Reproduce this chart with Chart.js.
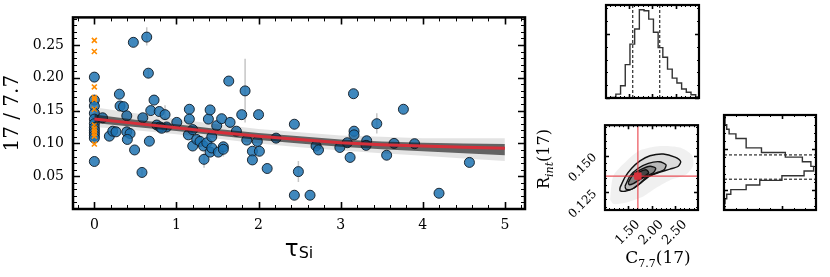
<!DOCTYPE html>
<html>
<head>
<meta charset="utf-8">
<script src="https://cdn.jsdelivr.net/npm/chart.js@4.4.1/dist/chart.umd.min.js"></script>
<style>
body { margin:0; background:#fff; }
#wrap { position:relative; width:830px; height:277px; overflow:hidden; }
canvas { position:absolute; }
.lbl { position:absolute; white-space:nowrap; color:#000; line-height:1; }
</style>
</head>
<body>
<div id="wrap">
<canvas id="main" width="540" height="277" style="left:0;top:0"></canvas>
<canvas id="histTop" width="105" height="104" style="left:600px;top:0"></canvas>
<canvas id="corner" width="153" height="169" style="left:552px;top:108px"></canvas>
<canvas id="histRight" width="115" height="108" style="left:715px;top:108px"></canvas>
<div class="lbl" style="left:199px;top:237px;width:200px;text-align:center;font-family:'DejaVu Sans'"><span style="font-size:23px">τ</span><span style="font-size:16px;position:relative;top:2px">Si</span></div>
<div class="lbl" style="left:598px;top:249px;width:120px;text-align:center;font-family:'DejaVu Serif';font-size:17px">C<span style="font-size:11px;position:relative;top:4px">7.7</span>(17)</div>
<div class="lbl" style="left:495px;top:150px;width:100px;height:18px;text-align:center;font-family:'DejaVu Serif';font-size:16px;transform:rotate(-90deg)">R<span style="font-size:11px;font-style:italic;position:relative;top:4px">int</span>(17)</div>
</div>
<script>
// ---- main panel: 17/7.7 vs tau_Si ----
let xTicks = [0, 1, 2, 3, 4, 5];
let yTicks = [0.05, 0.10, 0.15, 0.20, 0.25];

let tauBlue = [0,0,0,0,0,0,0,0,0,0,0,0,
  0.10,0.183,0.224,0.264,0.305,0.313,0.355,0.395,0.395,0.435,0.402,0.475,0.49,0.58,0.59,0.638,0.658,0.67,
  0.687,0.727,0.79,0.861,0.76,0.80,0.88,0.82,1.004,1.157,1.157,1.145,1.198,1.198,1.247,1.287,1.33,1.37,
  1.336,1.389,1.41,1.41,1.43,1.43,1.49,1.51,1.55,1.571,1.571,1.637,1.653,1.73,1.795,1.836,1.856,1.925,
  1.925,1.985,2.01,2.0,2.105,2.213,2.436,2.485,2.436,2.627,2.70,2.73,2.99,3.08,3.115,3.156,3.163,3.163,
  3.317,3.31,3.44,3.56,3.65,3.764,3.90,4.198,4.568];
let ratioBlue = [0.201,0.166,0.157,0.146,0.137,0.130,0.124,0.120,0.116,0.112,0.108,0.0724,
  0.139,0.111,0.1186,0.1176,0.175,0.157,0.156,0.142,0.1176,0.115,0.106,0.254,0.090,0.0557,0.139,0.262,0.207,0.1033,
  0.150,0.166,0.1486,0.1438,0.128,0.125,0.125,0.123,0.132,0.152,0.137,0.113,0.121,0.096,0.106,0.103,0.096,0.101,
  0.0757,0.137,0.151,0.0867,0.110,0.093,0.127,0.0867,0.1376,0.0948,0.091,0.195,0.132,0.1186,0.1438,0.180,0.105,0.088,
  0.0748,0.103,0.088,0.1438,0.0617,0.108,0.1292,0.057,0.021,0.021,0.096,0.090,0.0938,0.101,0.0786,0.1757,0.1186,0.113,
  0.104,0.097,0.130,0.082,0.100,0.152,0.0995,0.024,0.071];

let tauOrange = [0,0,0,0,0,0,0,0,0,0,0,0];
let ratioOrange = [0.257,0.240,0.186,0.170,0.167,0.152,0.128,0.123,0.119,0.115,0.111,0.099];

// vertical error bars
let errTau = [0.638, 0.658, 1.836, 0.861, 0.58, 1.336, 2.485, 3.44, 1.571, 2.70];
let errLo  = [0.249, 0.200, 0.132, 0.136, 0.051, 0.063, 0.041, 0.115, 0.080, 0.090];
let errHi  = [0.277, 0.214, 0.229, 0.158, 0.061, 0.086, 0.073, 0.146, 0.096, 0.102];

// fit: median curve and spread of the sampled curves
let fitTau  = [0, 0.5, 1, 1.5, 2, 2.5, 3, 3.5, 4, 4.5, 5];
let fitMed  = [0.137, 0.1305, 0.124, 0.117, 0.111, 0.106, 0.101, 0.098, 0.096, 0.094, 0.0925];
let innerHi = [0.144, 0.136, 0.129, 0.122, 0.116, 0.111, 0.106, 0.103, 0.101, 0.100, 0.099];
let innerLo = [0.131, 0.125, 0.119, 0.112, 0.105, 0.100, 0.095, 0.091, 0.088, 0.085, 0.082];
let outerHi = [0.155, 0.146, 0.137, 0.129, 0.122, 0.117, 0.112, 0.110, 0.108, 0.108, 0.108];
let outerLo = [0.125, 0.120, 0.114, 0.107, 0.100, 0.094, 0.089, 0.085, 0.081, 0.077, 0.073];

// ---- corner panels ----
let cornerXTicks = [1.5, 2.0, 2.5];
let cornerYTicks = [0.125, 0.150];

let c77Edges = [1.02,1.12,1.22,1.32,1.42,1.52,1.62,1.72,1.82,1.92,2.02,2.12,2.22,2.32,2.42,2.52,2.62,2.72,2.82,2.92,3.02];
let c77Counts = [1,2,12,38,104,168,215,275,272,246,205,157,127,90,62,47,28,18,10,3];
let c77Quant = [1.58, 2.155];

let rintEdges = [0.1138,0.11665,0.1195,0.12235,0.1252,0.12805,0.1309,0.13375,0.1366,0.13945,0.1423,
  0.14515,0.148,0.15085,0.1537,0.15655,0.1594,0.16225,0.1651,0.16795,0.1708];
let rintCounts = [1,3,8,20,65,105,170,235,263,255,230,180,110,65,65,35,15,8,3,3];
let rintQuant = [0.1316, 0.1465];

let truthC77 = 1.71;
let truthRint = 0.136;

let cloud = [[1.117,0.1199],[1.188,0.1362],[1.472,0.1465],[1.755,0.1537],[2.181,0.1567],[2.607,0.1557],
  [2.855,0.1506],[2.89,0.1434],[2.748,0.1373],[2.394,0.1332],[2.11,0.1281],[1.826,0.122],[1.472,0.1179],[1.188,0.1168]];
let contour1 = [[1.330,0.1281],[1.436,0.1353],[1.578,0.1414],[1.755,0.1465],[1.968,0.150],[2.251,0.1512],[2.5,0.149],
  [2.621,0.1461],[2.571,0.1428],[2.394,0.1408],[2.181,0.1387],[1.968,0.1362],[1.791,0.1318],[1.613,0.1275],[1.436,0.1256],[1.330,0.126]];
let contour2 = [[1.436,0.1291],[1.543,0.1362],[1.719,0.1414],[1.932,0.1448],[2.166,0.1459],[2.309,0.1438],[2.266,0.1404],
  [2.074,0.1379],[1.898,0.1353],[1.755,0.1311],[1.578,0.127],[1.457,0.127]];
let contour3 = [[1.507,0.1318],[1.613,0.1373],[1.791,0.1408],[1.968,0.1428],[2.089,0.1414],[2.039,0.1383],[1.898,0.1362],
  [1.755,0.1338],[1.613,0.1309],[1.521,0.1301]];
let contour4 = [[1.649,0.1353],[1.741,0.1387],[1.883,0.1404],[1.940,0.1383],[1.840,0.1358],[1.719,0.1338]];

Chart.defaults.font.family = "'DejaVu Serif', serif";
Chart.defaults.color = '#000';
Chart.defaults.animation = false;
Chart.defaults.plugins.legend.display = false;
Chart.defaults.plugins.tooltip.enabled = false;

function pts(xs, ys) {
    return xs.map((x, i) => ({x: x, y: ys[i]}));
}
function poly(arr) {
    return arr.concat([arr[0]]).map(p => ({x: p[0], y: p[1]}));
}
function minorVals(scale, step) {
    let out = [];
    for (let k = Math.ceil(scale.min / step - 1e-9); k * step <= scale.max + 1e-9; k++) out.push(k * step);
    return out;
}

// frame with inward ticks on all four sides, plus optional error bars
const frame = {
    id: 'frame',
    beforeDatasetsDraw(chart, args, o) {
        if (!o.err) return;
        const {ctx, scales: {x, y}} = chart;
        ctx.save();
        ctx.strokeStyle = '#c6c6c6';
        ctx.lineWidth = 1.5;
        ctx.beginPath();
        o.err.tau.forEach((t, i) => {
            let px = x.getPixelForValue(t);
            ctx.moveTo(px, y.getPixelForValue(o.err.lo[i]));
            ctx.lineTo(px, y.getPixelForValue(o.err.hi[i]));
        });
        ctx.stroke();
        ctx.restore();
    },
    afterDraw(chart, args, o) {
        const {ctx, chartArea: a, scales: {x, y}} = chart;
        ctx.save();
        ctx.strokeStyle = '#000';
        function marks(scale, vals, len, w, horiz) {
            ctx.lineWidth = w;
            ctx.beginPath();
            vals.forEach(v => {
                if (v < scale.min || v > scale.max) return;
                let p = Math.round(scale.getPixelForValue(v)) + 0.5;
                if (horiz) {
                    ctx.moveTo(p, a.bottom); ctx.lineTo(p, a.bottom - len);
                    ctx.moveTo(p, a.top); ctx.lineTo(p, a.top + len);
                } else {
                    ctx.moveTo(a.left, p); ctx.lineTo(a.left + len, p);
                    ctx.moveTo(a.right, p); ctx.lineTo(a.right - len, p);
                }
            });
            ctx.stroke();
        }
        marks(x, minorVals(x, o.xMinor), o.minor, 1, true);
        marks(y, minorVals(y, o.yMinor), o.minor, 1, false);
        marks(x, o.xMajor, o.major, 1.6, true);
        marks(y, o.yMajor, o.major, 1.6, false);
        ctx.lineWidth = o.lw;
        ctx.strokeRect(a.left, a.top, a.right - a.left, a.bottom - a.top);
        ctx.restore();
    }
};

function band(xs, ys, color, fill, order) {
    return {data: pts(xs, ys), showLine: true, pointRadius: 0, borderWidth: 0,
            borderColor: color, backgroundColor: color, fill: fill, order: order};
}

// main chart
new Chart(document.getElementById('main'), {
    type: 'scatter',
    data: {
        datasets: [
            {data: pts(fitTau, fitMed), showLine: true, pointRadius: 0, borderColor: '#d62f3a', borderWidth: 3, order: 0},
            band(fitTau, innerHi, 'rgba(20,20,20,0.62)', '+1', 1),
            band(fitTau, innerLo, 'rgba(20,20,20,0.62)', false, 2),
            band(fitTau, outerHi, 'rgba(0,0,0,0.11)', '+1', 3),
            band(fitTau, outerLo, 'rgba(0,0,0,0.11)', false, 4),
            {data: pts(tauOrange, ratioOrange), pointStyle: 'crossRot', pointRadius: 3.5,
             borderColor: '#ff8c00', borderWidth: 1.6, order: 5},
            {data: pts(tauBlue, ratioBlue), pointRadius: 5, backgroundColor: 'rgba(31,115,178,0.85)',
             borderColor: 'rgba(15,25,35,0.9)', borderWidth: 1, order: 6}
        ]
    },
    options: {
        responsive: false,
        layout: {padding: {left: 0, top: 5, right: 15, bottom: 0}},
        scales: {
            x: {type: 'linear', min: -0.26, max: 5.245,
                grid: {display: false, drawTicks: false}, border: {display: false},
                ticks: {padding: 8, font: {size: 14}, callback: v => String(v)},
                afterBuildTicks: s => { s.ticks = xTicks.map(v => ({value: v})); },
                afterFit: s => { s.height = 68; }},
            y: {type: 'linear', min: 0, max: 0.292,
                grid: {display: false, drawTicks: false}, border: {display: false},
                ticks: {padding: 9, font: {size: 14}, callback: v => v.toFixed(2)},
                title: {display: true, text: '17 / 7.7', font: {size: 20}, padding: {top: 1, bottom: 0}},
                afterBuildTicks: s => { s.ticks = yTicks.map(v => ({value: v})); },
                afterFit: s => { s.width = 73; }}
        },
        plugins: {
            frame: {lw: 2.5, major: 7, minor: 4, xMajor: xTicks, yMajor: yTicks, xMinor: 0.2, yMinor: 0.01,
                    err: {tau: errTau, lo: errLo, hi: errHi}}
        }
    },
    plugins: [frame]
});

// top histogram of C7.7
let c77Step = [{x: c77Edges[0], y: 0}].concat(pts(c77Edges.slice(0, -1), c77Counts), [{x: c77Edges[20], y: 0}]);
new Chart(document.getElementById('histTop'), {
    type: 'scatter',
    data: {
        datasets: [
            {data: c77Step, showLine: true, stepped: true, pointRadius: 0, borderColor: '#333', borderWidth: 1.4},
            {data: pts([c77Quant[0], c77Quant[0]], [0, 290]), showLine: true, pointRadius: 0, borderColor: '#000', borderWidth: 1, borderDash: [3, 2]},
            {data: pts([c77Quant[1], c77Quant[1]], [0, 290]), showLine: true, pointRadius: 0, borderColor: '#000', borderWidth: 1, borderDash: [3, 2]}
        ]
    },
    options: {
        responsive: false,
        layout: {padding: {left: 6, top: 5, right: 6, bottom: 6}},
        scales: {
            x: {type: 'linear', display: false, min: 1.01, max: 2.99},
            y: {type: 'linear', display: false, min: 0, max: 290}
        },
        plugins: {frame: {lw: 2.2, major: 4, minor: 2, xMajor: cornerXTicks, yMajor: [0, 200], xMinor: 0.1, yMinor: 40}}
    },
    plugins: [frame]
});

// 2D panel
function shape(arr, fillColor, lineColor, order) {
    return {data: poly(arr), showLine: true, pointRadius: 0, tension: 0.25, fill: 'shape',
            backgroundColor: fillColor, borderColor: lineColor || fillColor, borderWidth: lineColor ? 1.4 : 0, order: order};
}
new Chart(document.getElementById('corner'), {
    type: 'scatter',
    data: {
        datasets: [
            {data: [{x: truthC77, y: truthRint}], pointStyle: 'rect', pointRadius: 4.5, backgroundColor: '#d9323c', borderColor: '#d9323c', order: 0},
            {data: pts([truthC77, truthC77], [0.1127, 0.171]), showLine: true, pointRadius: 0, borderColor: 'rgba(230,50,60,0.85)', borderWidth: 1.2, order: 1},
            {data: pts([1.01, 2.99], [truthRint, truthRint]), showLine: true, pointRadius: 0, borderColor: 'rgba(230,50,60,0.85)', borderWidth: 1.2, order: 1},
            shape(contour4, '#454545', '#111', 2),
            shape(contour3, '#858585', '#111', 3),
            shape(contour2, '#b8b8b8', '#111', 4),
            shape(contour1, '#dcdcdc', '#111', 5),
            shape(cloud, 'rgba(0,0,0,0.06)', null, 6)
        ]
    },
    options: {
        responsive: false,
        layout: {padding: {left: 0, top: 7, right: 7, bottom: 0}},
        scales: {
            x: {type: 'linear', min: 1.01, max: 2.99,
                grid: {display: false, drawTicks: false}, border: {display: false},
                ticks: {padding: 7, font: {size: 13}, minRotation: 45, maxRotation: 45, autoSkip: false,
                        labelOffset: 10, callback: v => v.toFixed(2)},
                afterBuildTicks: s => { s.ticks = cornerXTicks.map(v => ({value: v})); },
                afterFit: s => { s.height = 67; }},
            y: {type: 'linear', min: 0.1127, max: 0.171,
                grid: {display: false, drawTicks: false}, border: {display: false},
                ticks: {padding: 10, font: {size: 12}, minRotation: 45, maxRotation: 45, callback: v => v.toFixed(3)},
                afterBuildTicks: s => { s.ticks = cornerYTicks.map(v => ({value: v})); },
                afterFit: s => { s.width = 53; }}
        },
        plugins: {frame: {lw: 2.2, major: 4, minor: 2, xMajor: cornerXTicks, yMajor: cornerYTicks, xMinor: 0.1, yMinor: 0.005}}
    },
    plugins: [frame]
});

// right histogram of R_int (rotated)
let rintStep = [{x: 0, y: rintEdges[0]}].concat(pts(rintCounts, rintEdges.slice(0, -1)), [{x: 0, y: rintEdges[20]}]);
new Chart(document.getElementById('histRight'), {
    type: 'scatter',
    data: {
        datasets: [
            {data: rintStep, showLine: true, stepped: 'after', pointRadius: 0, borderColor: '#333', borderWidth: 1.4},
            {data: pts([0, 270], [rintQuant[0], rintQuant[0]]), showLine: true, pointRadius: 0, borderColor: '#000', borderWidth: 1, borderDash: [3, 2]},
            {data: pts([0, 270], [rintQuant[1], rintQuant[1]]), showLine: true, pointRadius: 0, borderColor: '#000', borderWidth: 1, borderDash: [3, 2]}
        ]
    },
    options: {
        responsive: false,
        layout: {padding: {left: 9, top: 7, right: 14, bottom: 6}},
        scales: {
            x: {type: 'linear', display: false, min: 0, max: 270},
            y: {type: 'linear', display: false, min: 0.1127, max: 0.171}
        },
        plugins: {frame: {lw: 2.2, major: 4, minor: 2, xMajor: [0, 170], yMajor: cornerYTicks, xMinor: 34, yMinor: 0.005}}
    },
    plugins: [frame]
});
</script>
</body>
</html>
